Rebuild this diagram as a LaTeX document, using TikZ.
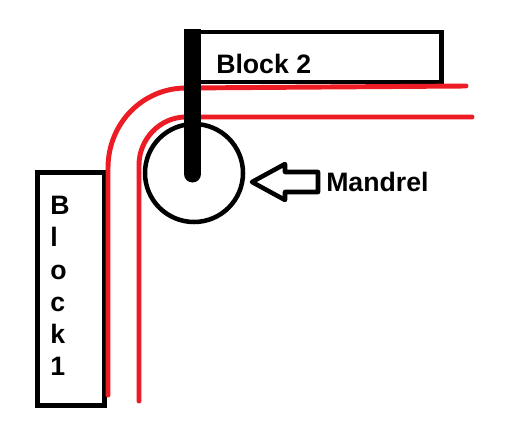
\documentclass[tikz,border=0pt]{standalone}
\usepackage{fontspec}
\setmainfont{Liberation Sans}
\usetikzlibrary{positioning}
\definecolor{wirered}{RGB}{237,28,36}
\tikzset{
  blockbox/.style={
    rectangle, draw=black, fill=white, line width=3.6pt, inner sep=0pt
  },
  wire/.style={draw=wirered, line width=3.7pt, line cap=round},
  mandrelcircle/.style={
    circle, draw=black, fill=white, line width=3.4pt,
    minimum size=73.5pt, inner sep=0pt
  },
  pressbar/.style={draw=black, line width=12.5pt},
  pointer/.style={draw=black, line width=3.4pt, line join=round},
  tag/.style={font=\fontsize{20}{24.2}\selectfont\bfseries, inner sep=0pt, align=left}
}

\begin{document}
\begin{tikzpicture}[x=0.75pt, y=-0.75pt]

\useasboundingbox[fill=white] (0,0) rectangle (515,421);

% BLOCKS
\node[blockbox, minimum width=49.9pt, minimum height=175pt] (block1) at (71,289) {};
\node[blockbox, minimum width=186.4pt, minimum height=37.5pt] (block2) at (317,57) {};

\node[tag, anchor=north west] (block1label) at (50,196) {B\\l\\o\\c\\k\\1};
\node[tag, anchor=base west] (block2label) at (216,73) {Block 2};

% RED LINES
\coordinate (outerlow)  at (108,395);
\coordinate (outerhigh) at (466,86);
\coordinate (innerlow)  at (139,401);
\coordinate (innerhigh) at (472,117);

\draw[wire] (outerlow) -- (108,168)
  .. controls (108,123) and (143,88) .. (186,88)
  -- (outerhigh);
\draw[wire] (innerlow) -- (139,165)
  .. controls (139,139) and (160,117) .. (186,117)
  -- (innerhigh);

% MANDREL
\node[mandrelcircle] (mandrel) at (194,173) {};

\coordinate (bartop) at (192.5,29);
\coordinate (barend) at (192.5,174);
\draw[pressbar] (bartop) -- (barend);
\fill[black] (barend) circle (8.5);

% ARROW
\node[tag, anchor=west] (mandrellabel) at (326,182) {Mandrel};
\draw[pointer] (252,182) -- (285,164) -- (285,172) -- (318,172)
  -- (318,192) -- (285,192) -- (285,200) -- cycle;

\end{tikzpicture}
\end{document}
